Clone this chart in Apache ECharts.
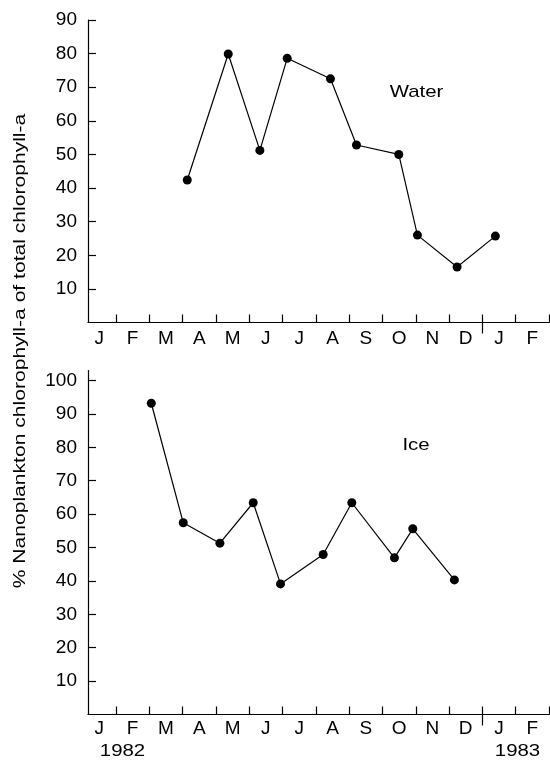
<!DOCTYPE html>
<html>
<head>
<meta charset="utf-8">
<script src="https://cdn.jsdelivr.net/npm/echarts@6/dist/echarts.min.js"></script>
<style>
  html, body { margin: 0; padding: 0; background: #fff; }
  #chart { width: 550px; height: 761px; }
</style>
</head>
<body>
<div id="chart"></div>
<script>
// Month letters, Jan 1982 .. Feb 1983 (x position = months since 1 Jan 1982)
var monthLetters = ['J', 'F', 'M', 'A', 'M', 'J', 'J', 'A', 'S', 'O', 'N', 'D', 'J', 'F'];
var yearLabels = ['1982', '1983'];

// Water column samples: [month position, % nanoplankton chlorophyll-a]
var waterMonths = [3.14, 4.37, 5.32, 6.14, 7.44, 8.22, 9.49, 10.05, 11.24, 12.39];
var waterValues = [42.4, 79.9, 51.2, 78.6, 72.5, 52.8, 50.0, 26.0, 16.5, 25.7];

// Sea ice samples
var iceMonths = [2.06, 3.02, 4.12, 5.12, 5.94, 7.22, 8.08, 9.36, 9.91, 11.16];
var iceValues = [93.2, 57.4, 51.3, 63.4, 39.1, 47.9, 63.4, 46.9, 55.6, 40.3];

var waterTicks = [10, 20, 30, 40, 50, 60, 70, 80, 90];
var iceTicks = [10, 20, 30, 40, 50, 60, 70, 80, 90, 100];

function pairs(xs, ys) {
  return xs.map(function (x, i) { return [x, ys[i]]; });
}

var FONT = '"Liberation Sans", Arial, Helvetica, sans-serif';
var AXIS_FONT_SIZE = 19;
var TEXT_STRETCH = 1.2;   // wide-set lettering for free text
var monthBounds = [];
var monthCentres = [];
for (var i = 0; i < monthLetters.length; i++) {
  monthBounds.push(i + 1);
  monthCentres.push(i + 0.5);
}

function monthAxis(gridIndex, labelMargin) {
  return {
    type: 'value', gridIndex: gridIndex, min: 0.16, max: 14,
    splitLine: { show: false },
    axisLine: { show: true, lineStyle: { color: '#000', width: 1.2 } },
    axisTick: { show: true, inside: true, length: 8, customValues: monthBounds,
                lineStyle: { color: '#000', width: 1.2 } },
    axisLabel: {
      show: true, customValues: monthCentres, margin: labelMargin,
      color: '#000', fontSize: AXIS_FONT_SIZE, fontFamily: FONT,
      formatter: function (v) { return monthLetters[Math.floor(v)] || ''; }
    }
  };
}

// Longer tick marking the year boundary, crossing below the axis line
function yearTickAxis(gridIndex) {
  return {
    type: 'value', gridIndex: gridIndex, min: 0.16, max: 14, position: 'bottom',
    splitLine: { show: false },
    axisLine: { show: false },
    axisTick: { show: true, inside: false, length: 11, customValues: [12],
                lineStyle: { color: '#000', width: 1.2 } },
    axisLabel: { show: false }
  };
}

function valueAxis(gridIndex, max, ticks) {
  return {
    type: 'value', gridIndex: gridIndex, min: 0, max: max,
    splitLine: { show: false },
    axisLine: { show: true, lineStyle: { color: '#000', width: 1.2 } },
    axisTick: { show: true, inside: true, length: 8, customValues: ticks,
                lineStyle: { color: '#000', width: 1.2 } },
    axisLabel: { show: true, customValues: ticks, margin: 11,
                 color: '#000', fontSize: AXIS_FONT_SIZE, fontFamily: FONT }
  };
}

function lineSeries(name, xi, yi, data) {
  return {
    name: name, type: 'line', xAxisIndex: xi, yAxisIndex: yi,
    data: data, symbol: 'circle', symbolSize: 9,
    itemStyle: { color: '#000' },
    lineStyle: { color: '#000', width: 1.2 },
    animation: false
  };
}

function freeText(text, x, y, rotation, stretch) {
  return {
    type: 'text', x: x, y: y, rotation: rotation || 0, scaleX: stretch || TEXT_STRETCH,
    style: { text: text, font: '17px ' + FONT, fill: '#000', align: 'center', verticalAlign: 'middle' }
  };
}

var chart = echarts.init(document.getElementById('chart'), null, { renderer: 'canvas' });
chart.setOption({
  animation: false,
  backgroundColor: '#fff',
  grid: [
    { left: 88, top: 20, width: 461, height: 302.5 },
    { left: 88, top: 370.5, width: 461, height: 344 }
  ],
  xAxis: [monthAxis(0, 7), monthAxis(1, 5), yearTickAxis(0), yearTickAxis(1)],
  yAxis: [valueAxis(0, 90, waterTicks), valueAxis(1, 103, iceTicks)],
  series: [
    lineSeries('Water', 0, 0, pairs(waterMonths, waterValues)),
    lineSeries('Ice', 1, 1, pairs(iceMonths, iceValues))
  ],
  graphic: [
    freeText('Water', 416.5, 92.7),
    freeText('Ice', 416, 445.3),
    freeText(yearLabels[0], 122.5, 751),
    freeText(yearLabels[1], 517.5, 751),
    freeText('% Nanoplankton chlorophyll-a of total chlorophyll-a', 20, 351, Math.PI / 2, 1.24)
  ]
});
</script>
</body>
</html>
